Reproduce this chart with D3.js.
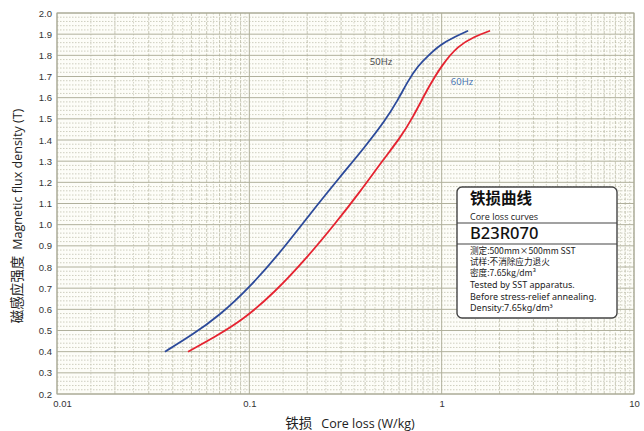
<!DOCTYPE html>
<html><head><meta charset="utf-8">
<script src="https://cdn.jsdelivr.net/npm/d3@7"></script>
<style>
html,body{margin:0;padding:0;background:#fff;}
svg{display:block;}
</style>
</head><body>
<svg id="chart" width="644" height="431"></svg>
<script>
// ---- data ----
const xTicks = [0.01, 0.1, 1, 10];
const xTickLabels = ["0.01", "0.1", "1", "10"];
const yTicks = [0.2,0.3,0.4,0.5,0.6,0.7,0.8,0.9,1.0,1.1,1.2,1.3,1.4,1.5,1.6,1.7,1.8,1.9,2.0];
const loss50 = [0.0364,0.0504,0.0696,0.1008,0.1444,0.2069,0.2963,0.3996,0.508,0.593,0.669,0.754,0.850,0.981,1.174,1.372];
const flux50 = [0.40,0.479,0.569,0.706,0.867,1.051,1.226,1.368,1.491,1.590,1.680,1.751,1.798,1.850,1.888,1.916];
const loss60 = [0.048,0.0663,0.0927,0.136,0.195,0.279,0.376,0.496,0.608,0.702,0.850,1.005,1.217,1.474,1.785];
const flux60 = [0.40,0.470,0.550,0.682,0.834,1.004,1.155,1.306,1.410,1.500,1.647,1.756,1.845,1.888,1.916];
const seriesNames = ["50Hz","60Hz"];
const legendLines = ["测定:500mm×500mm SST","试样:不消除应力退火","密度:7.65kg/dm³","Tested by SST apparatus.","Before stress-relief annealing.","Density:7.65kg/dm³"];

// ---- chart ----
const svg = d3.select("#chart");
const L = 57, R = 634, T = 13, B = 394;
const x = d3.scaleLog().domain([0.01, 10]).range([L, R]);
const y = d3.scaleLinear().domain([0.2, 2.0]).range([B, T]);

svg.append("rect").attr("x", L).attr("y", T).attr("width", R - L).attr("height", B - T).attr("fill", "#fdfdf8");

const grid = svg.append("g");
d3.range(0.2, 2.0001, 0.02).forEach(v => {
  const isMajor = Math.abs(v * 10 - Math.round(v * 10)) < 1e-6;
  if (isMajor) return;
  grid.append("line").attr("x1", L).attr("x2", R).attr("y1", y(v)).attr("y2", y(v))
    .attr("stroke", "#c2c2b0").attr("stroke-width", 0.8).attr("stroke-dasharray", "1.5,1.5");
});
[0.01, 0.1, 1].forEach(dec => {
  d3.range(1.5, 9.51, 0.5).forEach(m => {
    const isInt = Math.abs(m - Math.round(m)) < 1e-6;
    grid.append("line").attr("x1", x(dec * m)).attr("x2", x(dec * m)).attr("y1", T).attr("y2", B)
      .attr("stroke", isInt ? "#bbbba7" : "#cbcbbb").attr("stroke-width", 0.8)
      .attr("stroke-dasharray", isInt ? "3,1.5" : "1.5,1.5");
  });
});
yTicks.forEach(v => {
  grid.append("line").attr("x1", L).attr("x2", R).attr("y1", y(v)).attr("y2", y(v))
    .attr("stroke", "#b0b09c").attr("stroke-width", 1);
});
xTicks.forEach(v => {
  grid.append("line").attr("x1", x(v)).attr("x2", x(v)).attr("y1", T).attr("y2", B)
    .attr("stroke", "#b0b09c").attr("stroke-width", 1);
});
svg.append("rect").attr("x", L).attr("y", T).attr("width", R - L).attr("height", B - T)
  .attr("fill", "none").attr("stroke", "#a8a894").attr("stroke-width", 1);

const yAxis = d3.axisLeft(y).tickValues(yTicks).tickFormat(d3.format(".1f")).tickSize(0).tickPadding(5);
const gy = svg.append("g").attr("transform", `translate(${L},0)`).call(yAxis);
gy.select(".domain").remove();
gy.selectAll("text").attr("font-family", "Liberation Sans, Arial, sans-serif").attr("font-size", 9.5).attr("fill", "#333");

const xAxis = d3.axisBottom(x).tickValues(xTicks).tickFormat((d, i) => xTickLabels[i]).tickSize(0).tickPadding(6);
const gx = svg.append("g").attr("transform", `translate(0,${B})`).call(xAxis);
gx.select(".domain").remove();
gx.selectAll("text").attr("font-family", "Liberation Sans, Arial, sans-serif").attr("font-size", 9.5).attr("fill", "#333");
gx.selectAll(".tick").filter((d, i) => i === 0).select("text").attr("dx", 5);

const line = d3.line().x(d => x(d[0])).y(d => y(d[1])).curve(d3.curveBasis);
svg.append("path").datum(loss50.map((v, i) => [v, flux50[i]])).attr("d", line)
  .attr("fill", "none").attr("stroke", "#2c4a9a").attr("stroke-width", 1.8);
svg.append("path").datum(loss60.map((v, i) => [v, flux60[i]])).attr("d", line)
  .attr("fill", "none").attr("stroke", "#e52330").attr("stroke-width", 1.8);

svg.append("text").attr("x", 381).attr("y", 65).attr("text-anchor", "middle")
  .attr("font-family", "Open Sans, Noto Sans, sans-serif").attr("font-size", 9.5).attr("fill", "#444").text(seriesNames[0]);
svg.append("text").attr("x", 462).attr("y", 85).attr("text-anchor", "middle")
  .attr("font-family", "Open Sans, Noto Sans, sans-serif").attr("font-size", 9.5).attr("fill", "#3d6fb0").text(seriesNames[1]);

svg.append("text").attr("transform", "translate(22,216) rotate(-90)").attr("text-anchor", "middle")
  .attr("font-size", 12.5).attr("fill", "#222")
  .html('<tspan font-family="Noto Sans CJK SC" font-size="13.5">磁感应强度</tspan><tspan font-family="Open Sans, Noto Sans, sans-serif" dx="6">Magnetic flux density (T)</tspan>');
svg.append("text").attr("x", 350).attr("y", 428).attr("text-anchor", "middle")
  .attr("font-size", 12.5).attr("fill", "#222")
  .html('<tspan font-family="Noto Sans CJK SC" font-size="13.5">铁损</tspan><tspan font-family="Open Sans, Noto Sans, sans-serif" dx="9">Core loss (W/kg)</tspan>');

const lg = svg.append("g");
lg.append("rect").attr("x", 457).attr("y", 187).attr("width", 160).attr("height", 131).attr("rx", 5)
  .attr("fill", "#fff").attr("stroke", "#444").attr("stroke-width", 1.4);
lg.append("text").attr("x", 470).attr("y", 204).attr("font-family", "Noto Sans CJK SC").attr("font-size", 15.5).attr("font-weight", 700).attr("fill", "#111").text("铁损曲线");
lg.append("text").attr("x", 470).attr("y", 219.5).attr("font-family", "Open Sans, Noto Sans, sans-serif").attr("font-size", 9).attr("fill", "#222").text("Core loss curves");
lg.append("line").attr("x1", 457).attr("x2", 617).attr("y1", 223).attr("y2", 223).attr("stroke", "#444").attr("stroke-width", 1.2);
lg.append("text").attr("x", 470).attr("y", 239).attr("font-family", "Noto Sans, sans-serif").attr("font-size", 16.5).attr("font-weight", 500).attr("fill", "#111").text("B23R070");
lg.append("line").attr("x1", 457).attr("x2", 617).attr("y1", 244).attr("y2", 244).attr("stroke", "#444").attr("stroke-width", 1.2);
const lys = [254, 265, 276, 288, 299.5, 311];
legendLines.forEach((t, i) => {
  lg.append("text").attr("x", 470).attr("y", lys[i])
    .attr("font-family", i < 3 ? "Noto Sans CJK SC, Noto Sans, sans-serif" : "Noto Sans, sans-serif")
    .attr("font-size", i < 3 ? 8.6 : 9).attr("fill", "#222").text(t);
});
</script>
</body></html>
